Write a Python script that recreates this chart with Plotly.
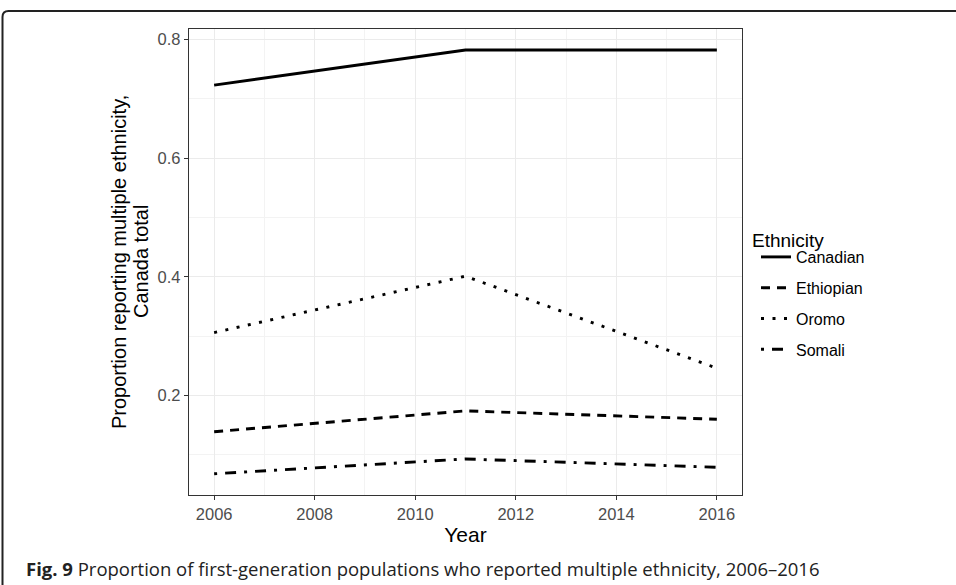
import plotly.graph_objects as go

years = [2006, 2011, 2016]
canadian = [0.723, 0.782, 0.782]
ethiopian = [0.139, 0.174, 0.160]
oromo = [0.306, 0.401, 0.246]
somali = [0.068, 0.093, 0.079]

series_names = ["Canadian", "Ethiopian", "Oromo", "Somali"]
series_values = [canadian, ethiopian, oromo, somali]
dashes = ["solid", "9px,7px", "3px,8.5px", "3px,8px,11px,8px"]

y_title_lines = ["Proportion reporting multiple ethnicity,", "Canada total"]

W, H = 956, 585
L, R, T, B = 189, 742, 29, 495

fig = go.Figure()
for name, vals, dash in zip(series_names, series_values, dashes):
    fig.add_trace(go.Scatter(
        x=years, y=vals, mode="lines", name=name, legendgroup=name,
        line=dict(color="black", width=2.9, dash=dash),
    ))

def px2paper(px, py):
    return (px - L) / (R - L), (B - py) / (B - T)

# outer rounded frame (top and left edges)
x0, y0 = px2paper(2.5, 590)
x1, y1 = px2paper(2.5, 17)
xc, yc = px2paper(2.5, 11)
x2, y2 = px2paper(8.5, 11)
x3, y3 = px2paper(960, 11)
frame_path = f"M {x0},{y0} L {x1},{y1} Q {xc},{yc} {x2},{y2} L {x3},{y3}"

annotations = []
for line_text, px in zip(y_title_lines, [119, 141]):
    annotations.append(dict(
        text=line_text, textangle=-90,
        x=px2paper(px, 0)[0], xref="paper", xanchor="center",
        y=0.5, yref="paper", yanchor="middle",
        showarrow=False, font=dict(size=20, color="black"),
    ))
annotations.append(dict(
    text="Ethnicity",
    x=px2paper(750, 0)[0], xref="paper", xanchor="left",
    y=px2paper(0, 240)[1], yref="paper", yanchor="middle",
    showarrow=False, font=dict(size=19, color="black"),
))
annotations.append(dict(
    text="<b>Fig. 9</b> Proportion of first-generation populations who reported multiple ethnicity, 2006–2016",
    x=px2paper(24, 0)[0], xref="paper", xanchor="left",
    y=px2paper(0, 568)[1], yref="paper", yanchor="middle",
    showarrow=False, font=dict(family="Open Sans, Noto Sans, sans-serif", size=18.5, color="#222222"),
))

fig.update_layout(
    width=W, height=H,
    margin=dict(l=L, r=W - R, t=T, b=H - B),
    paper_bgcolor="white", plot_bgcolor="white",
    font=dict(family="Liberation Sans, Arial, sans-serif", color="black"),
    showlegend=True,
    legend=dict(
        font=dict(size=16, color="black"),
        x=px2paper(756, 0)[0], xanchor="left", xref="paper",
        y=px2paper(0, 240)[1], yanchor="top",
        tracegroupgap=7,
        bgcolor="rgba(0,0,0,0)",
    ),
    xaxis=dict(
        range=[2005.5, 2016.5], tick0=2006, dtick=2,
        showgrid=True, gridcolor="#ebebeb", gridwidth=1.1,
        minor=dict(dtick=1, tick0=2006, showgrid=True, gridcolor="#f3f3f3", gridwidth=1),
        showline=True, mirror=True, linecolor="#333333", linewidth=1.3,
        ticks="outside", ticklen=4, tickcolor="#333333", tickwidth=1.1,
        tickfont=dict(size=16.5, color="#4d4d4d"),
        title=dict(text="Year", font=dict(size=21, color="black"), standoff=5),
        zeroline=False,
    ),
    yaxis=dict(
        range=[0.0323, 0.8175], tick0=0, dtick=0.2, tickformat=".1f",
        showgrid=True, gridcolor="#ebebeb", gridwidth=1.1,
        minor=dict(dtick=0.1, tick0=0, showgrid=True, gridcolor="#f3f3f3", gridwidth=1),
        showline=True, mirror=True, linecolor="#333333", linewidth=1.3,
        ticks="outside", ticklen=4, tickcolor="#333333", tickwidth=1.1,
        tickfont=dict(size=16.5, color="#4d4d4d"),
        zeroline=False,
    ),
    shapes=[dict(type="path", path=frame_path, xref="paper", yref="paper",
                 line=dict(color="#222222", width=2), layer="above")],
    annotations=annotations,
)

fig.write_html(
    "out.html",
    config={"displayModeBar": False},
    post_script="document.body.style.margin='0';document.body.style.overflow='hidden';",
)
